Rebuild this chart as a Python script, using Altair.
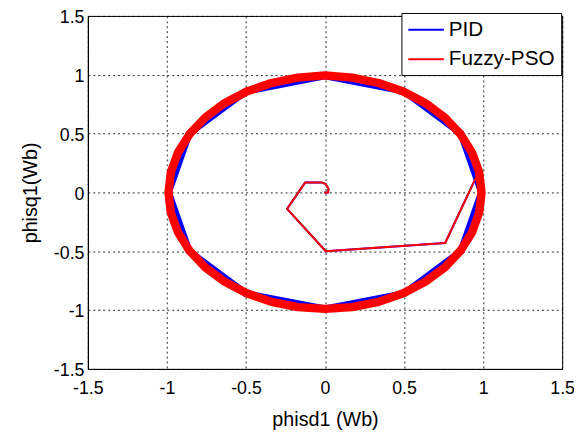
import altair as alt
import pandas as pd

# --- data ---
series_names = ["PID", "Fuzzy-PSO"]
series_colors = ["#0000FF", "#FF0000"]

# start-up transient (same for both controllers)
trans_x = [0.0, 0.02, 0.022, 0.005, -0.02, -0.125, -0.24, 0.005, 0.76, 0.97]
trans_y = [0.0, 0.0, 0.03, 0.07, 0.085, 0.085, -0.14, -0.5, -0.43, 0.17]

# PID steady-state flux locus (12-sided, corners)
pid_x = [0.97, 0.99, 0.86, 0.5, 0.0, -0.5, -0.86, -0.99, -0.86, -0.5, 0.0, 0.5, 0.86, 0.99]
pid_y = [0.17, 0.0, 0.5, 0.86, 0.99, 0.86, 0.5, 0.0, -0.5, -0.86, -0.99, -0.86, -0.5, 0.0]

# Fuzzy-PSO steady-state flux locus (near-circular band)
fz_x = [0.975, 0.930, 0.857, 0.758, 0.636, 0.495, 0.339, 0.172, 0.0, -0.172, -0.339, -0.495,
        -0.636, -0.758, -0.857, -0.930, -0.975, -0.99, -0.975, -0.930, -0.857, -0.758, -0.636,
        -0.495, -0.339, -0.172, 0.0, 0.172, 0.339, 0.495, 0.636, 0.758, 0.857, 0.930, 0.975,
        0.99, 0.975]
fz_y = [0.172, 0.339, 0.495, 0.636, 0.758, 0.857, 0.930, 0.975, 0.995, 0.975, 0.930, 0.857,
        0.758, 0.636, 0.495, 0.339, 0.172, 0.0, -0.172, -0.339, -0.495, -0.636, -0.758,
        -0.857, -0.930, -0.975, -0.99, -0.975, -0.930, -0.857, -0.758, -0.636, -0.495, -0.339,
        -0.172, 0.0, 0.172]

axis_ticks = [-1.5, -1, -0.5, 0, 0.5, 1, 1.5]


def frame(xs, ys, name, part):
    return pd.DataFrame({"x": xs, "y": ys, "i": list(range(len(xs))),
                         "series": name, "part": part})


df = pd.concat([
    frame(pid_x, pid_y, "PID", "steady"),
    frame(trans_x, trans_y, "PID", "trans"),
    frame(fz_x, fz_y, "Fuzzy-PSO", "steady"),
    frame(trans_x, trans_y, "Fuzzy-PSO", "trans"),
], ignore_index=True)

FONT = "Liberation Sans"

x_enc = alt.X("x:Q", scale=alt.Scale(domain=[-1.5, 1.5], nice=False),
              axis=alt.Axis(values=axis_ticks, title="phisd1 (Wb)",
                            labelExpr="toString(datum.value)", labelPadding=11,
                            titlePadding=12))
y_enc = alt.Y("y:Q", scale=alt.Scale(domain=[-1.5, 1.5], nice=False),
              axis=alt.Axis(values=axis_ticks, title="phisq1(Wb)",
                            labelExpr="toString(datum.value)", labelPadding=4,
                            labelOffset=2, titlePadding=13))
color_enc = alt.Color("series:N",
                      scale=alt.Scale(domain=series_names, range=series_colors),
                      legend=alt.Legend(title=None, orient="none", legendX=318, legendY=-3,
                                        strokeColor="black", fillColor="white",
                                        padding=6, rowPadding=9,
                                        symbolType="M-1,0H2.6", symbolSize=400,
                                        symbolStrokeWidth=2,
                                        labelFontSize=21, labelFont=FONT, labelOffset=20,
                                        labelColor="black"))


def layer(name, part, width):
    return alt.Chart(df).transform_filter(
        (alt.datum.series == name) & (alt.datum.part == part)
    ).mark_line(strokeWidth=width, strokeJoin="round", strokeCap="round").encode(
        x=x_enc, y=y_enc, color=color_enc, order="i:Q"
    )


chart = alt.layer(
    layer("PID", "steady", 7),
    layer("PID", "trans", 2),
    layer("Fuzzy-PSO", "steady", 8.5),
    layer("Fuzzy-PSO", "trans", 2),
).properties(
    width=481, height=358,
    autosize=alt.AutoSizeParams(type="none"),
    padding={"left": 81, "top": 5, "right": 12, "bottom": 66},
).configure_view(
    stroke="black", strokeWidth=1
).configure_axis(
    domainColor="black", domainWidth=1,
    gridColor="black", gridDash=[2, 3], gridOpacity=0.85, gridWidth=1,
    ticks=False,
    labelFont=FONT, labelFontSize=18, labelColor="black",
    titleFont=FONT, titleFontSize=20, titleFontWeight="normal", titleColor="black",
    labelOverlap=False, labelBound=False, labelFlush=False,
)

chart.save("out.html", embed_options={"renderer": "svg", "actions": False})
